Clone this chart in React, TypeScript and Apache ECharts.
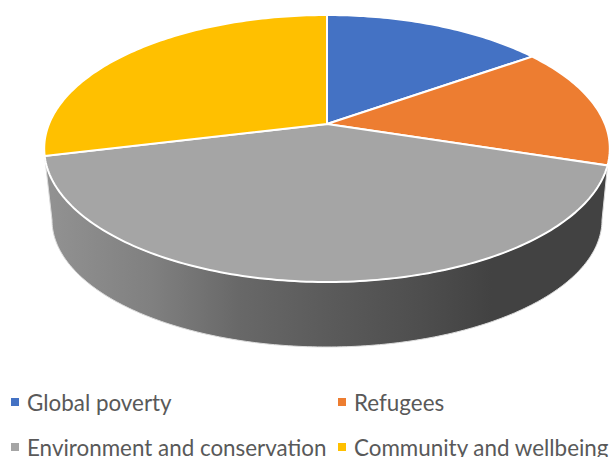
import React, { useEffect, useRef } from "react";
import * as echarts from "echarts";

const categories = ["Global poverty", "Refugees", "Environment and conservation", "Community and wellbeing"];
const sliceValues = [15.2, 14.7, 41.3, 28.8];
const sliceColors = ["#4472C4", "#ED7D31", "#A5A5A5", "#FFC000"];
const legendLeft = [11, 338, 11, 338];
const legendTop = [391, 391, 436, 436];
const wallStops = [
  [0, "#919191"],
  [0.18, "#808080"],
  [0.34, "#686868"],
  [0.5, "#5b5b5b"],
  [0.67, "#4e4e4e"],
  [0.8, "#424242"],
  [1, "#424242"],
];

const APEX_X = 327, APEX_Y = 124, PERSP = 0.1835, SX = 278, SY = 129;
const BASE_CY = 220, BASE_RX = 275, BASE_RY = 127;
const TOTAL = sliceValues.reduce((a, b) => a + b, 0);

const rimPoint = (th: number) => {
  const w = 1 + PERSP * Math.cos(th);
  return [APEX_X + (SX * Math.sin(th)) / w, APEX_Y - (SY * Math.cos(th)) / w];
};
const rimArc = (a: number, b: number) => {
  const n = Math.max(4, Math.ceil(((b - a) / (2 * Math.PI)) * 360));
  const out: number[][] = [];
  for (let i = 0; i <= n; i++) out.push(rimPoint(a + ((b - a) * i) / n));
  return out;
};
const sliceRange = (i: number) => {
  const before = sliceValues.slice(0, i).reduce((a, b) => a + b, 0);
  return [(before / TOTAL) * 2 * Math.PI, ((before + sliceValues[i]) / TOTAL) * 2 * Math.PI];
};

const wallElement = (i: number) => {
  const [a, b] = sliceRange(i);
  const pts = rimArc(a, b);
  for (let d = 180; d >= 0; d -= 1) {
    const t = (d * Math.PI) / 180;
    pts.push([APEX_X + BASE_RX * Math.cos(t), BASE_CY + BASE_RY * Math.sin(t)]);
  }
  return {
    type: "polygon",
    shape: { points: pts },
    style: {
      fill: new echarts.graphic.LinearGradient(52, 0, 602, 0, wallStops.map(([offset, color]) => ({ offset, color })) as any, true),
      stroke: "#dcdcdc",
      lineWidth: 1,
    },
  };
};

const renderSlice = (i: number) => () => {
  const [a, b] = sliceRange(i);
  const top = {
    type: "polygon",
    shape: { points: [[APEX_X, APEX_Y], ...rimArc(a, b)] },
    style: { fill: sliceColors[i], stroke: "#ffffff", lineWidth: 2 },
  };
  return i === 2 ? { type: "group", children: [wallElement(i), top] } : top;
};

export default function App() {
  const ref = useRef<HTMLDivElement>(null);
  useEffect(() => {
    document.body.style.margin = "0";
    document.body.style.overflow = "hidden";
    const chart = echarts.init(ref.current!, null, { renderer: "svg" });
    chart.setOption({
      animation: false,
      backgroundColor: "#ffffff",
      legend: categories.map((name, i) => ({
        data: [name],
        left: legendLeft[i],
        top: legendTop[i],
        padding: 0,
        icon: "rect",
        itemWidth: 8,
        itemHeight: 8,
        selectedMode: false,
        textStyle: { fontFamily: "Lato", fontSize: 22.4, color: "#595959", padding: [0, 0, 0, 3] },
      })),
      series: categories.map((name, i) => ({
        type: "custom",
        name,
        coordinateSystem: "none",
        itemStyle: { color: sliceColors[i] },
        data: [sliceValues[i]],
        renderItem: renderSlice(i),
      })),
    });
    return () => chart.dispose();
  }, []);
  return <div ref={ref} style={{ position: "fixed", left: 0, top: 0, width: 610, height: 457 }} />;
}
